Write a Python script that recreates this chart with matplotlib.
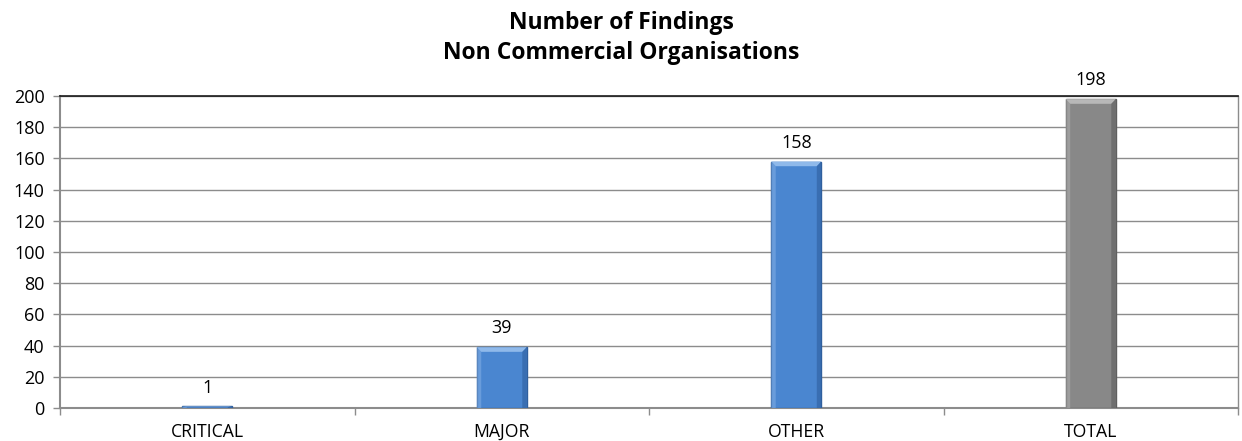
import matplotlib
matplotlib.use("Agg")
import matplotlib.pyplot as plt
from matplotlib.patches import Polygon

categories = ["CRITICAL", "MAJOR", "OTHER", "TOTAL"]
findings = [1, 39, 158, 198]
bar_colors = ["#4a86d0", "#4a86d0", "#4a86d0", "#888888"]
edge_colors = ["#2f5f9e", "#2f5f9e", "#2f5f9e", "#5f5f5f"]
light_colors = ["#8fb9ea", "#8fb9ea", "#8fb9ea", "#b8b8b8"]
y_ticks = list(range(0, 201, 20))

plt.rcParams["font.family"] = ["Open Sans", "DejaVu Sans"]

fig = plt.figure(figsize=(12.42, 4.41), dpi=100)
ax = fig.add_axes([60 / 1242, 1 - 408 / 441, (1238 - 60) / 1242, (408 - 96) / 441])

x = list(range(len(categories)))
width = 0.17
bars = ax.bar(x, findings, width=width, color=bar_colors, edgecolor=edge_colors,
              linewidth=1.0, zorder=3)

# bevel highlight along the top and sides of each bar
for rect, light, dark in zip(bars, light_colors, edge_colors):
    x0, w, h = rect.get_x(), rect.get_width(), rect.get_height()
    bx = w * 0.09
    by = min(3.0, h * 0.45)
    top = Polygon([(x0, h), (x0 + w, h), (x0 + w - bx, h - by), (x0 + bx, h - by)],
                  closed=True, facecolor=light, edgecolor="none", zorder=4)
    left = Polygon([(x0, 0), (x0, h), (x0 + bx, h - by), (x0 + bx, 0)],
                   closed=True, facecolor=light, edgecolor="none", alpha=0.45, zorder=4)
    right = Polygon([(x0 + w, 0), (x0 + w, h), (x0 + w - bx, h - by), (x0 + w - bx, 0)],
                    closed=True, facecolor=dark, edgecolor="none", alpha=0.6, zorder=4)
    for p in (top, left, right):
        ax.add_patch(p)
    ax.annotate(f"{int(h)}", (rect.get_x() + w / 2, h), xytext=(0, 7),
                textcoords="offset points", ha="center", va="bottom",
                fontsize=13, color="#000000", zorder=5)

ax.set_xlim(-0.5, len(categories) - 0.5)
ax.set_ylim(0, 200)
ax.set_yticks(y_ticks)
ax.set_yticklabels([str(v) for v in y_ticks], fontsize=13)
ax.yaxis.grid(True, color="#8c8c8c", linewidth=1.0, zorder=0)
ax.set_axisbelow(True)

ax.set_xticks(x)
ax.set_xticklabels(categories, fontsize=12.7)
ax.tick_params(axis="x", length=0, pad=11)
ax.set_xticks([i - 0.5 for i in range(len(categories) + 1)], minor=True)
ax.tick_params(axis="x", which="minor", length=5, color="#8c8c8c", width=1)
ax.tick_params(axis="y", length=5, color="#8c8c8c", width=1, pad=6)

for side in ("left", "bottom"):
    ax.spines[side].set_color("#8c8c8c")
    ax.spines[side].set_linewidth(1.5)
ax.spines["top"].set_color("#1a1a1a")
ax.spines["top"].set_linewidth(1.2)
ax.spines["right"].set_color("#8c8c8c")
ax.spines["right"].set_linewidth(1.0)

fig.text(0.5, 1 - 23 / 441, "Number of Findings", ha="center", va="center",
         fontsize=16.5, fontweight="bold")
fig.text(0.5, 1 - 53 / 441, "Non Commercial Organisations", ha="center", va="center",
         fontsize=16.5, fontweight="bold")

fig.savefig("out.png", dpi=100)
